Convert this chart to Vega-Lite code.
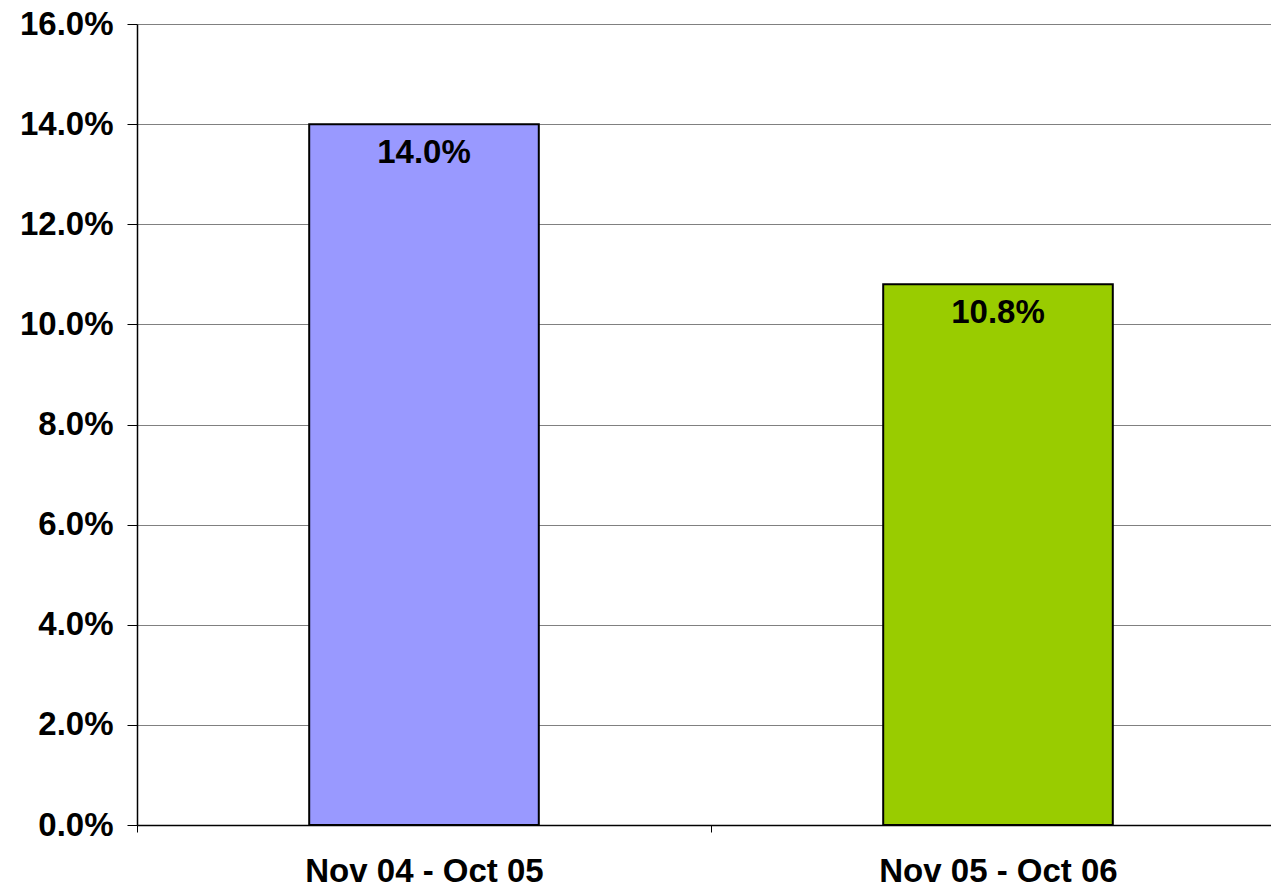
{
  "$schema": "https://vega.github.io/schema/vega-lite/v6.json",
  "autosize": {"type": "none"},
  "padding": {"left": 137, "top": 24, "right": 0, "bottom": 57},
  "width": 1134,
  "height": 801,
  "background": "white",
  "config": {"view": {"stroke": null}, "font": "Liberation Sans"},
  "data": {"values": [
    {"period": "Nov 04 - Oct 05", "rate": 0.14, "label": "14.0%"},
    {"period": "Nov 05 - Oct 06", "rate": 0.108, "label": "10.8%"}
  ]},
  "encoding": {
    "x": {
      "field": "period", "type": "nominal", "sort": null,
      "scale": {"range": [0, 1148], "paddingInner": 0, "paddingOuter": 0},
      "axis": {
        "title": null, "labelAngle": 0, "tickBand": "extent", "labelLimit": 0,
        "domainColor": "black", "domainWidth": 1.5, "tickColor": "black", "tickSize": 7, "tickWidth": 1,
        "labelFont": "Liberation Sans", "labelFontSize": 33, "labelFontWeight": "bold", "labelColor": "black",
        "labelPadding": 23, "labelBaseline": "top", "grid": false
      }
    },
    "y": {
      "field": "rate", "type": "quantitative",
      "scale": {"domain": [0, 0.16], "nice": false, "zero": true},
      "axis": {
        "title": null, "format": ".1%", "values": [0, 0.02, 0.04, 0.06, 0.08, 0.1, 0.12, 0.14, 0.16],
        "domainColor": "black", "domainWidth": 1.5, "tickColor": "black", "tickSize": 10, "tickWidth": 1,
        "labelFont": "Liberation Sans", "labelFontSize": 33, "labelFontWeight": "bold", "labelColor": "black",
        "labelPadding": 14, "grid": true, "gridColor": "#808080", "gridWidth": 1.2
      }
    }
  },
  "layer": [
    {
      "mark": {"type": "bar", "width": {"band": 0.4}, "stroke": "black", "strokeWidth": 2},
      "encoding": {
        "color": {
          "field": "period", "type": "nominal", "legend": null,
          "scale": {"domain": ["Nov 04 - Oct 05", "Nov 05 - Oct 06"], "range": ["#9999FF", "#99CC00"]}
        }
      }
    },
    {
      "mark": {"type": "text", "font": "Liberation Sans", "fontSize": 33, "fontWeight": "bold", "color": "black", "baseline": "alphabetic", "dy": 39},
      "encoding": {"text": {"field": "label"}}
    }
  ]
}
